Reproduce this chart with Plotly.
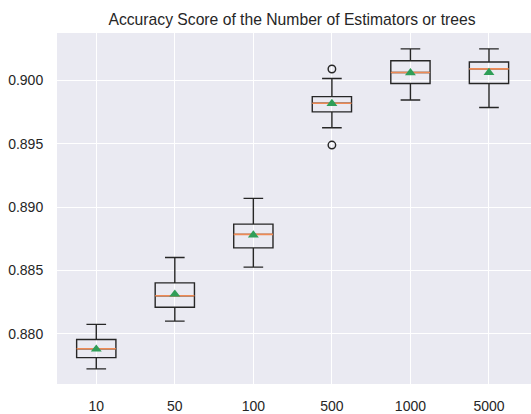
import plotly.graph_objects as go

categories = ["10", "50", "100", "500", "1000", "5000"]
q1 = [0.87813, 0.88211, 0.88679, 0.89752, 0.89976, 0.89976]
median = [0.87883, 0.88301, 0.88785, 0.89820, 0.90062, 0.90091]
q3 = [0.87956, 0.88403, 0.88866, 0.89872, 0.90155, 0.90145]
lower = [0.87724, 0.88101, 0.88527, 0.89627, 0.89845, 0.89786]
upper = [0.88075, 0.88603, 0.89069, 0.90015, 0.90249, 0.90249]
means = [0.87880, 0.88314, 0.88780, 0.89817, 0.90060, 0.90062]
outlier_cat = ["500", "500"]
outlier_val = [0.90090, 0.89490]

pos = list(range(1, len(categories) + 1))
cat_pos = {c: p for c, p in zip(categories, pos)}
BOXW = 0.5

fig = go.Figure()
fig.add_trace(go.Box(
    x=pos, q1=q1, median=median, q3=q3, lowerfence=lower, upperfence=upper,
    width=BOXW, whiskerwidth=0.5, boxpoints=False,
    line=dict(color="#262626", width=1.4), fillcolor="rgba(0,0,0,0)",
    showlegend=False, hoverinfo="skip",
))

mx, my = [], []
for p, m in zip(pos, median):
    mx += [p - BOXW / 2, p + BOXW / 2, None]
    my += [m, m, None]
fig.add_trace(go.Scatter(x=mx, y=my, mode="lines",
                         line=dict(color="#EE8A55", width=1.6),
                         showlegend=False, hoverinfo="skip"))

fig.add_trace(go.Scatter(x=pos, y=means, mode="markers",
                         marker=dict(symbol="triangle-up", size=9.5, color="#2F9E58"),
                         showlegend=False, hoverinfo="skip"))

fig.add_trace(go.Scatter(x=[cat_pos[c] for c in outlier_cat], y=outlier_val, mode="markers",
                         marker=dict(symbol="circle-open", size=7.5, color="#262626",
                                     line=dict(width=1.4)),
                         showlegend=False, hoverinfo="skip"))

fig.update_layout(
    width=531, height=414,
    margin=dict(l=57, r=0, t=33, b=26),
    paper_bgcolor="white", plot_bgcolor="#EAEAF2",
    font=dict(family="Liberation Sans, Arial, sans-serif", size=14, color="#262626"),
    title=dict(text="Accuracy Score of the Number of Estimators or trees",
               x=292 / 531, xref="container", xanchor="center",
               y=1 - 20 / 414, yref="container", yanchor="middle",
               font=dict(size=15.7, color="#262626")),
)
fig.update_xaxes(range=[0.5, 6.535], tickvals=pos, ticktext=categories,
                 showgrid=True, gridcolor="white", gridwidth=1.4,
                 zeroline=False, showline=False,
                 ticks="outside", ticklen=9, tickcolor="rgba(0,0,0,0)")
fig.update_yaxes(range=[0.87605, 0.90374], dtick=0.005, tick0=0.88, tickformat=".3f",
                 showgrid=True, gridcolor="white", gridwidth=1.4,
                 zeroline=False, showline=False,
                 ticks="outside", ticklen=10, tickcolor="rgba(0,0,0,0)")

fig.write_html("out.html")
